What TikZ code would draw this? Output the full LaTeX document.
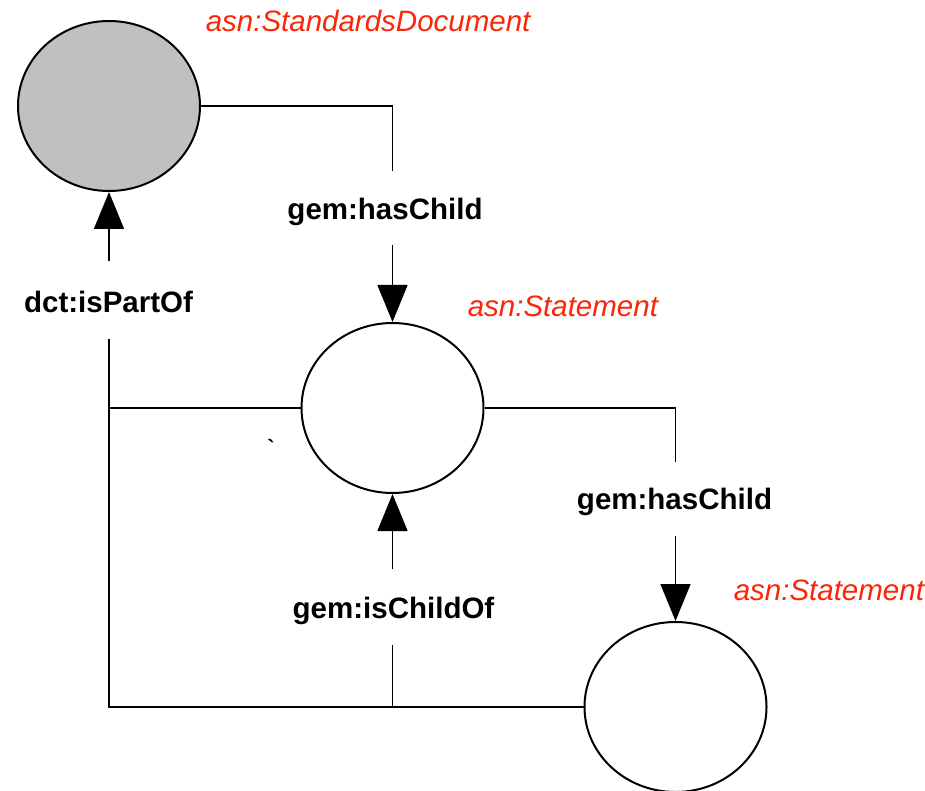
\documentclass[tikz,border=0pt]{standalone}
\usepackage{fontspec}
\setmainfont{Liberation Sans}
\usetikzlibrary{arrows.meta,shapes.geometric}
\definecolor{asnred}{RGB}{250,38,8}
\definecolor{docgray}{RGB}{192,192,192}

\begin{document}
\begin{tikzpicture}[x=1pt,y=-1pt,>={Triangle[width=30pt,length=37pt]},
                    line width=1.5pt,
                    class node/.style={ellipse,draw,line width=2pt,minimum width=182pt,
                                       minimum height=170pt,inner sep=0pt},
                    prop label/.style={font=\fontsize{29.5}{30}\selectfont\bfseries,
                                       inner sep=0pt,text height=22pt,text depth=6pt,anchor=base},
                    type label/.style={font=\fontsize{29.5}{30}\selectfont\itshape,
                                       text=asnred,inner sep=0pt,anchor=base west}]
  \useasboundingbox (0,0) rectangle (925,791);
  % classes
  \node[class node,fill=docgray] (doc) at (109,106) {};
  \node[class node] (stmt1) at (392.5,408) {};
  \node[class node] (stmt2) at (675.5,707) {};
  \node[type label] (doctype)   at (205,32)  {asn:StandardsDocument};
  \node[type label] (stmt1type) at (467,316) {asn:Statement};
  \node[type label] (stmt2type) at (733,600) {asn:Statement};
  % properties
  \node[prop label] (child1) at (385,220)   {gem:hasChild};
  \node[prop label] (part)   at (108.5,312) {dct:isPartOf};
  \node[prop label] (child2) at (674.5,509) {gem:hasChild};
  \node[prop label] (parent) at (393.5,618) {gem:isChildOf};
  \node[font=\fontsize{22}{22}\selectfont\bfseries,inner sep=0pt] (tick) at (271,447) {\textasciigrave};
  \draw[shorten >=26pt] (doc.east) -| (stmt1.north |- child1.north);
  \draw[shorten >=24pt] (stmt1.east) -| (stmt2.north |- child2.north);
  \draw[shorten >=20pt] (stmt2.west) -| (doc.south |- part.south);
  \draw (stmt1.west) -- (stmt1.west -| doc.south);
  \draw[shorten >=20pt] (stmt1.south |- stmt2.west) -- (stmt1.south |- parent.south);
  \path[->]
    (stmt1.north |- child1.south) edge [shorten <=18pt] (stmt1.north)
    (stmt2.north |- child2.south) edge [shorten <=20pt] (stmt2.north)
    (doc.south |- part.north)     edge [shorten <=28pt] (doc.south)
    (stmt1.south |- parent.north) edge [shorten <=26pt] (stmt1.south)
    ;
\end{tikzpicture}
\end{document}
